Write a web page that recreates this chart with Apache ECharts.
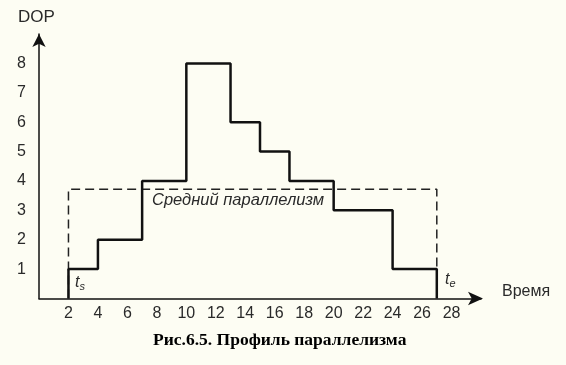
<!DOCTYPE html>
<html><head><meta charset="utf-8">
<script src="https://cdn.jsdelivr.net/npm/echarts@6/dist/echarts.min.js"></script>
<style>html,body{margin:0;padding:0;background:#fdfdf3}#c{width:566px;height:365px}</style>
</head><body><div id="c"></div>
<script>
// Step profile: DOP held from each start time until the next
const startTimes = [2, 4, 7, 10, 13, 15, 17, 20, 24];
const dopValues  = [1, 2, 4, 8, 6, 5, 4, 3, 1];
const endTime = 27;
const avgDop = 3.72;
const xTicks = [2,4,6,8,10,12,14,16,18,20,22,24,26,28];
const yTicks = [1,2,3,4,5,6,7,8];

const stepData = [[startTimes[0], 0]];
startTimes.forEach((t, i) => stepData.push([t, dopValues[i]]));
stepData.push([endTime, 0]);
const avgData = [[startTimes[0], 0], [startTimes[0], avgDop], [endTime, avgDop], [endTime, 0]];

const chart = echarts.init(document.getElementById('c'));
const font = 'Liberation Sans, Arial, sans-serif';
chart.setOption({
  backgroundColor: '#fdfdf3',
  animation: false,
  grid: {left: 39, right: 85, top: 34, bottom: 66.5},
  xAxis: {
    type: 'value', min: 0, max: 30, interval: 2,
    axisLine: {lineStyle: {color: '#111', width: 1.5}, symbol: ['none', 'arrow'], symbolSize: [10, 15], symbolOffset: [0, 2]},
    axisTick: {show: false}, splitLine: {show: false},
    axisLabel: {margin: 7, fontSize: 16, color: '#2a2a2a', fontFamily: font,
      formatter: v => xTicks.includes(v) ? String(v) : ''}
  },
  yAxis: {
    type: 'value', min: 0, max: 9, interval: 1,
    axisLine: {show: true, lineStyle: {color: '#111', width: 1.5}, symbol: ['none', 'arrow'], symbolSize: [10, 13], symbolOffset: [0, 0]},
    axisTick: {show: false}, splitLine: {show: false},
    axisLabel: {margin: 13, fontSize: 16, color: '#2a2a2a', fontFamily: font,
      formatter: v => yTicks.includes(v) ? String(v) : ''}
  },
  series: [
    {type: 'line', data: avgData, symbol: 'none', silent: true,
     lineStyle: {color: '#222', width: 1.5, type: [9, 5]}},
    {type: 'line', data: stepData, step: 'end', symbol: 'none', silent: true,
     lineStyle: {color: '#111', width: 2.5}}
  ],
  graphic: [
    {type: 'text', left: 18, top: 9, style: {text: 'DOP', font: '17px ' + font, fill: '#2a2a2a'}},
    {type: 'text', left: 502, top: 284, style: {text: 'Время', font: '16px ' + font, fill: '#2a2a2a'}},
    {type: 'text', left: 152, top: 192, style: {text: 'Средний параллелизм', font: 'italic 16.5px ' + font, fill: '#2a2a2a'}},
    {type: 'text', left: 75, top: 275, style: {
      text: '{a|t}{b|s}', rich: {a: {font: 'italic 16px ' + font, fill: '#2a2a2a'}, b: {font: 'italic 11px ' + font, fill: '#2a2a2a', padding: [8, 0, 0, 0]}}}},
    {type: 'text', left: 445, top: 272, style: {
      text: '{a|t}{b|e}', rich: {a: {font: 'italic 16px ' + font, fill: '#2a2a2a'}, b: {font: 'italic 11px ' + font, fill: '#2a2a2a', padding: [8, 0, 0, 0]}}}},
    {type: 'text', left: 153, top: 331, style: {text: 'Рис.6.5. Профиль параллелизма', font: 'bold 17.5px Liberation Serif, Times New Roman, serif', fill: '#000'}}
  ]
});
</script></body></html>
